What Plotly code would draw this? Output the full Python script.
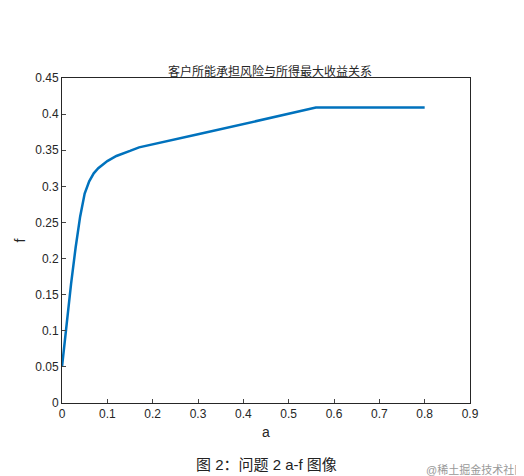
import plotly.graph_objects as go

# 读取自图像的数据点
a = [0, 0.01, 0.02, 0.03, 0.04, 0.05, 0.06, 0.07, 0.08, 0.1, 0.12, 0.15, 0.17, 0.3, 0.4, 0.5, 0.56, 0.6, 0.7, 0.8]
f = [0.05, 0.11, 0.165, 0.215, 0.258, 0.29, 0.307, 0.318, 0.325, 0.335, 0.342, 0.349, 0.354, 0.372, 0.386, 0.401, 0.409, 0.409, 0.409, 0.409]

fig = go.Figure()
fig.add_trace(go.Scatter(x=a, y=f, mode='lines', line=dict(color='#0072BD', width=2.5)))

fig.update_layout(
    width=524, height=476, showlegend=False,
    plot_bgcolor='white', paper_bgcolor='white',
    margin=dict(l=54, r=62, t=70, b=81),
    font=dict(family='Liberation Sans, Noto Sans CJK SC', size=12, color='#262626'),
    title=dict(text='客户所能承担风险与所得最大收益关系', x=0.5, xanchor='center', y=0.875, font=dict(size=12)),
)
axis = dict(showline=True, linecolor='#262626', mirror=True, ticks='inside', ticklen=4,
            showgrid=False, zeroline=False)
fig.update_xaxes(axis, range=[0, 0.9], dtick=0.1, title=dict(text='a', standoff=6))
fig.update_yaxes(axis, range=[0, 0.45], dtick=0.05, title=dict(text='f', standoff=6))

fig.add_annotation(text='图 2：问题 2 a-f 图像', xref='paper', yref='paper', x=0.5, y=-0.22,
                   showarrow=False, font=dict(size=15, color='#222'))
fig.add_annotation(text='@稀土掘金技术社区', xref='paper', yref='paper', x=1.14, y=-0.23,
                   xanchor='right', showarrow=False, font=dict(size=11, color='#999'))

fig.write_html("out.html")
